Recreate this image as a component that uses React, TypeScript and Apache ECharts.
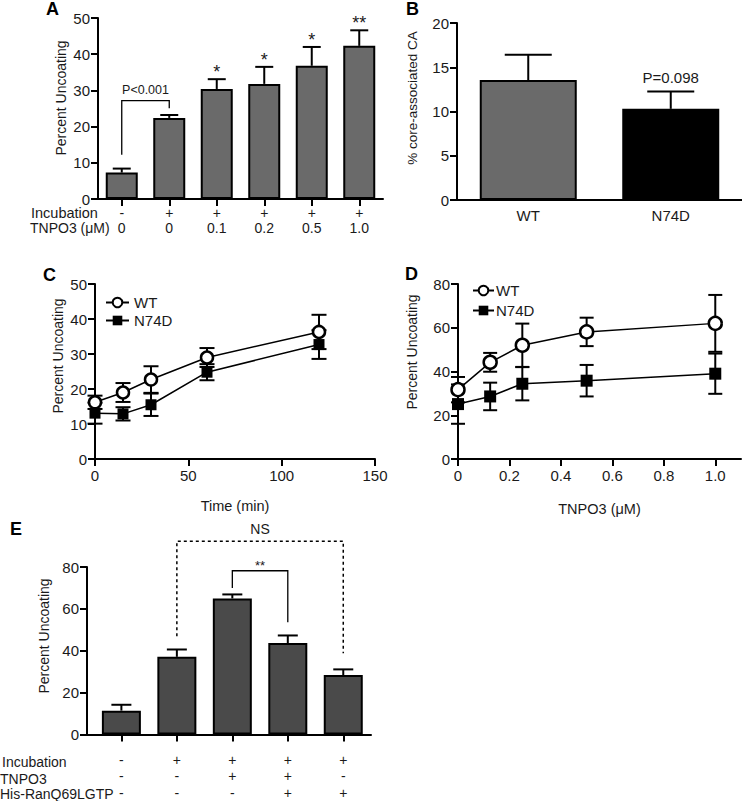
import React, { useEffect, useRef } from "react";
import * as echarts from "echarts";

// ---------- Panel A ----------
const incubationA = ["-", "+", "+", "+", "+", "+"];
const tnpo3A = ["0", "0", "0.1", "0.2", "0.5", "1.0"];
const uncoatingA = [7.3, 22.4, 30.4, 31.8, 36.8, 42.3];
const errA = [1.1, 0.8, 2.7, 4.7, 5.2, 4.3];
const starsA = ["", "", "*", "*", "*", "**"];
const bracketA = [0, 1, 27.2, 12.2, 25.1];
const bracketALabel = "P<0.001";

// ---------- Panel B ----------
const strainB = ["WT", "N74D"];
const coreCAB = [13.55, 10.3];
const errB = [2.85, 1.95];
const pLabelB = ["", "P=0.098"];

// ---------- Panel C ----------
const timeC = [0, 15, 30, 60, 120];
const wtC = [16.2, 19.0, 22.7, 29.0, 36.3];
const wtErrC = [1.9, 2.7, 3.8, 2.7, 4.9];
const n74dC = [13.1, 12.9, 15.5, 24.8, 32.7];
const n74dErrC = [3.0, 1.9, 3.2, 2.3, 4.1];

// ---------- Panel D ----------
const tnpoD = [0, 0.125, 0.25, 0.5, 1.0];
const wtD = [31.7, 44.2, 52.0, 58.1, 62.0];
const wtErrD = [5.8, 4.3, 9.9, 6.5, 13.0];
const n74dD = [25.1, 28.6, 34.4, 35.8, 39.0];
const n74dErrD = [9.0, 6.3, 7.6, 7.2, 9.2];
const ticksD = [0, 0.2, 0.4, 0.6, 0.8, 1.0];

// ---------- Panel E ----------
const incubationE = ["-", "+", "+", "+", "+"];
const tnpoE = ["-", "-", "+", "+", "-"];
const ranE = ["-", "-", "-", "+", "+"];
const uncoatingE = [11.4, 37.1, 65.0, 43.7, 28.4];
const errE = [2.8, 3.5, 1.9, 3.6, 2.7];
const bracketESig = [2, 3, 78.2, 70, 53.6];
const bracketESigLabel = "**";
const bracketENs = [1, 4, 92.3, 46.9, 38.8];
const bracketENsLabel = "NS";

const FONT = '"Liberation Sans", Arial, Helvetica, sans-serif';
const TXT = "#1a1a1a";

function errRender(capW: number, both: boolean) {
  return (params: any, api: any) => {
    const x = api.value(0);
    const y = api.value(1);
    const e = api.value(2);
    const top = api.coord([x, y + e]);
    const bot = api.coord([x, both ? y - e : y]);
    const st = { stroke: "#000", lineWidth: 2 };
    const children: any[] = [
      { type: "line", shape: { x1: top[0], y1: top[1], x2: bot[0], y2: bot[1] }, style: st },
      { type: "line", shape: { x1: top[0] - capW / 2, y1: top[1], x2: top[0] + capW / 2, y2: top[1] }, style: st },
    ];
    if (both) {
      children.push({ type: "line", shape: { x1: bot[0] - capW / 2, y1: bot[1], x2: bot[0] + capW / 2, y2: bot[1] }, style: st });
    }
    return { type: "group", children };
  };
}

function starRender(labels: string[], fontSize: number, lift: number) {
  return (params: any, api: any) => {
    const t = labels[params.dataIndex];
    if (!t) return null;
    const p = api.coord([api.value(0), api.value(1) + api.value(2)]);
    return {
      type: "text",
      x: p[0],
      y: p[1] - lift,
      style: { text: t, fill: TXT, fontSize, fontFamily: FONT, align: "center", verticalAlign: "middle", textAlign: "center", textVerticalAlign: "middle" },
    };
  };
}

function bracketRender(label: string, fontSize: number, lift: number, dashed: boolean) {
  return (params: any, api: any) => {
    const x1 = api.value(0), x2 = api.value(1), top = api.value(2), yl = api.value(3), yr = api.value(4);
    const pl = api.coord([x1, yl]);
    const ptl = api.coord([x1, top]);
    const ptr = api.coord([x2, top]);
    const pr = api.coord([x2, yr]);
    return {
      type: "group",
      children: [
        {
          type: "polyline",
          shape: { points: [pl, ptl, ptr, pr] },
          style: { stroke: "#000", lineWidth: dashed ? 1.5 : 1.3, fill: "none", lineDash: dashed ? [3, 3] : null },
        },
        {
          type: "text",
          x: (ptl[0] + ptr[0]) / 2,
          y: ptl[1] - lift,
          style: { text: label, fill: TXT, fontSize, fontFamily: FONT, align: "center", verticalAlign: "middle", textAlign: "center", textVerticalAlign: "middle" },
        },
      ],
    };
  };
}

const axisLine = { show: true, onZero: false, lineStyle: { color: "#000", width: 2 } };
const axisTick = { show: true, length: 7, lineStyle: { color: "#000", width: 2 } };
const tickLabel = { color: TXT, fontSize: 15, fontFamily: FONT, margin: 8 };

function panelLetter(t: string, x: number, y: number) {
  return {
    type: "text",
    x,
    y,
    style: { text: t, fill: "#000", font: `bold 18px ${FONT}`, textAlign: "left", textVerticalAlign: "middle", align: "left", verticalAlign: "middle" },
  };
}
function plainText(t: string, x: number, y: number, size = 14) {
  return {
    type: "text",
    x,
    y,
    style: { text: t, fill: TXT, fontSize: size, fontFamily: FONT, textAlign: "left", textVerticalAlign: "middle", align: "left", verticalAlign: "middle" },
  };
}
function yName(t: string, x: number, y: number, size = 14) {
  return {
    type: "text",
    x,
    y,
    rotation: Math.PI / 2,
    style: { text: t, fill: TXT, fontSize: size, fontFamily: FONT, textAlign: "center", textVerticalAlign: "middle", align: "center", verticalAlign: "middle" },
  };
}

export default function App() {
  const ref = useRef<HTMLDivElement>(null);
  useEffect(() => {
    if (!ref.current) return;
    const chart = echarts.init(ref.current, null, { renderer: "svg" });
    const labelsA = incubationA.map((s, i) => `${s}\n${tnpo3A[i]}`);
    const labelsE = incubationE.map((s, i) => `${s}\n${tnpoE[i]}\n${ranE[i]}`);

    const option: any = {
      animation: false,
      backgroundColor: "#fff",
      textStyle: { fontFamily: FONT },
      grid: [
        { left: 98, top: 18, width: 285, height: 181 },
        { left: 457, top: 23, width: 285, height: 177 },
        { left: 95, top: 284, width: 280, height: 175 },
        { left: 458, top: 284, width: 283, height: 175 },
        { left: 87, top: 567, width: 284, height: 169 },
      ],
      xAxis: [
        {
          gridIndex: 0,
          type: "category",
          data: labelsA,
          axisLine,
          axisTick: { ...axisTick, alignWithLabel: true },
          axisLabel: { color: TXT, fontSize: 14, fontFamily: FONT, margin: 6, lineHeight: 15, interval: 0 },
        },
        {
          gridIndex: 1,
          type: "category",
          data: strainB,
          axisLine,
          axisTick: { show: false },
          axisLabel: { ...tickLabel, margin: 8 },
        },
        {
          gridIndex: 2,
          type: "value",
          min: 0,
          max: 150,
          interval: 50,
          axisLine,
          axisTick,
          axisLabel: { ...tickLabel, margin: 9 },
          splitLine: { show: false },
          name: "Time (min)",
          nameLocation: "middle",
          nameGap: 39,
          nameTextStyle: { color: TXT, fontSize: 14.5, fontFamily: FONT },
        },
        {
          gridIndex: 3,
          type: "value",
          min: 0,
          max: 1.1,
          axisLine,
          axisTick: { ...axisTick, customValues: ticksD },
          axisLabel: { ...tickLabel, margin: 9, customValues: ticksD, formatter: (v: number) => (v === 0 ? "0" : v.toFixed(1)) },
          splitLine: { show: false },
          name: "TNPO3 (\u03bcM)",
          nameLocation: "middle",
          nameGap: 42,
          nameTextStyle: { color: TXT, fontSize: 14.5, fontFamily: FONT },
        },
        {
          gridIndex: 4,
          type: "value",
          min: -0.62,
          max: 4.5,
          axisLine,
          axisTick: { ...axisTick, customValues: [0, 1, 2, 3, 4] },
          axisLabel: {
            color: TXT,
            fontSize: 14,
            fontFamily: FONT,
            margin: 17,
            lineHeight: 16.5,
            customValues: [0, 1, 2, 3, 4],
            formatter: (v: number) => labelsE[Math.round(v)] ?? "",
          },
          splitLine: { show: false },
        },
      ],
      yAxis: [
        { gridIndex: 0, type: "value", min: 0, max: 50, interval: 10, axisLine, axisTick, axisLabel: tickLabel, splitLine: { show: false } },
        { gridIndex: 1, type: "value", min: 0, max: 20, interval: 5, axisLine, axisTick, axisLabel: tickLabel, splitLine: { show: false } },
        { gridIndex: 2, type: "value", min: 0, max: 50, interval: 10, axisLine, axisTick, axisLabel: tickLabel, splitLine: { show: false } },
        { gridIndex: 3, type: "value", min: 0, max: 80, interval: 20, axisLine, axisTick, axisLabel: tickLabel, splitLine: { show: false } },
        { gridIndex: 4, type: "value", min: 0, max: 80, interval: 20, axisLine, axisTick, axisLabel: tickLabel, splitLine: { show: false } },
      ],
      legend: [
        {
          left: 100,
          top: 290,
          orient: "vertical",
          data: ["WT", "N74D"],
          itemWidth: 23,
          itemHeight: 12,
          itemGap: 3,
          selectedMode: false,
          textStyle: { color: TXT, fontSize: 15, fontFamily: FONT, padding: [0, 0, 0, 0] },
        },
        {
          left: 467,
          top: 278,
          orient: "vertical",
          data: ["WT", "N74D"],
          itemWidth: 21,
          itemHeight: 12,
          itemGap: 5,
          selectedMode: false,
          textStyle: { color: TXT, fontSize: 15, fontFamily: FONT, padding: [0, 0, 0, -3] },
        },
      ],
      series: [
        // A
        {
          type: "bar",
          xAxisIndex: 0,
          yAxisIndex: 0,
          data: uncoatingA,
          barWidth: 32,
          itemStyle: { color: "#6a6a6a", borderColor: "#000", borderWidth: 2 },
          z: 2,
        },
        {
          type: "custom",
          xAxisIndex: 0,
          yAxisIndex: 0,
          data: uncoatingA.map((v, i) => [i, v, errA[i]]),
          renderItem: errRender(18, false),
          z: 3,
        },
        {
          type: "custom",
          xAxisIndex: 0,
          yAxisIndex: 0,
          data: uncoatingA.map((v, i) => [i, v, errA[i]]),
          renderItem: starRender(starsA, 18, 7),
          z: 3,
        },
        {
          type: "custom",
          xAxisIndex: 0,
          yAxisIndex: 0,
          data: [bracketA],
          renderItem: bracketRender(bracketALabel, 12.5, 11, false),
          z: 3,
        },
        // B
        {
          type: "bar",
          xAxisIndex: 1,
          yAxisIndex: 1,
          data: coreCAB.map((v, i) => ({ value: v, itemStyle: { color: i === 0 ? "#6a6a6a" : "#000" } })),
          barWidth: 97,
          itemStyle: { borderColor: "#000", borderWidth: 2 },
          z: 2,
        },
        {
          type: "custom",
          xAxisIndex: 1,
          yAxisIndex: 1,
          data: coreCAB.map((v, i) => [i, v, errB[i]]),
          renderItem: errRender(47, false),
          z: 3,
        },
        {
          type: "custom",
          xAxisIndex: 1,
          yAxisIndex: 1,
          data: coreCAB.map((v, i) => [i, v, errB[i]]),
          renderItem: starRender(pLabelB, 15, 14),
          z: 3,
        },
        // C
        {
          type: "custom",
          xAxisIndex: 2,
          yAxisIndex: 2,
          data: timeC.map((t, i) => [t, wtC[i], wtErrC[i]]),
          renderItem: errRender(15, true),
          z: 1,
        },
        {
          type: "custom",
          xAxisIndex: 2,
          yAxisIndex: 2,
          data: timeC.map((t, i) => [t, n74dC[i], n74dErrC[i]]),
          renderItem: errRender(15, true),
          z: 1,
        },
        {
          name: "WT",
          type: "line",
          xAxisIndex: 2,
          yAxisIndex: 2,
          data: timeC.map((t, i) => [t, wtC[i]]),
          symbol: "circle",
          symbolSize: 12,
          itemStyle: { color: "#fff", borderColor: "#000", borderWidth: 2.5 },
          lineStyle: { color: "#000", width: 1.5 },
          z: 4,
        },
        {
          name: "N74D",
          type: "line",
          xAxisIndex: 2,
          yAxisIndex: 2,
          data: timeC.map((t, i) => [t, n74dC[i]]),
          symbol: "rect",
          symbolSize: 11,
          itemStyle: { color: "#000" },
          lineStyle: { color: "#000", width: 1.5 },
          z: 4,
        },
        // D
        {
          type: "custom",
          xAxisIndex: 3,
          yAxisIndex: 3,
          data: tnpoD.map((t, i) => [t, wtD[i], wtErrD[i]]),
          renderItem: errRender(14, true),
          z: 1,
        },
        {
          type: "custom",
          xAxisIndex: 3,
          yAxisIndex: 3,
          data: tnpoD.map((t, i) => [t, n74dD[i], n74dErrD[i]]),
          renderItem: errRender(14, true),
          z: 1,
        },
        {
          name: "WT",
          type: "line",
          xAxisIndex: 3,
          yAxisIndex: 3,
          data: tnpoD.map((t, i) => [t, wtD[i]]),
          symbol: "circle",
          symbolSize: 13,
          itemStyle: { color: "#fff", borderColor: "#000", borderWidth: 2.5 },
          lineStyle: { color: "#000", width: 1.5 },
          z: 4,
        },
        {
          name: "N74D",
          type: "line",
          xAxisIndex: 3,
          yAxisIndex: 3,
          data: tnpoD.map((t, i) => [t, n74dD[i]]),
          symbol: "rect",
          symbolSize: 12,
          itemStyle: { color: "#000" },
          lineStyle: { color: "#000", width: 1.5 },
          z: 4,
        },
        // E
        {
          type: "bar",
          xAxisIndex: 4,
          yAxisIndex: 4,
          data: uncoatingE.map((v, i) => [i, v]),
          barWidth: 39,
          itemStyle: { color: "#4a4a4a", borderColor: "#000", borderWidth: 2 },
          z: 2,
        },
        {
          type: "custom",
          xAxisIndex: 4,
          yAxisIndex: 4,
          data: uncoatingE.map((v, i) => [i, v, errE[i]]),
          renderItem: errRender(20, false),
          z: 3,
        },
        {
          type: "custom",
          xAxisIndex: 4,
          yAxisIndex: 4,
          data: [bracketESig],
          renderItem: bracketRender(bracketESigLabel, 13, 5, false),
          z: 3,
        },
        {
          type: "custom",
          xAxisIndex: 4,
          yAxisIndex: 4,
          data: [bracketENs],
          renderItem: bracketRender(bracketENsLabel, 14, 12, true),
          z: 3,
        },
      ],
      graphic: [
        panelLetter("A", 46, 9),
        panelLetter("B", 406, 9),
        panelLetter("C", 43, 275),
        panelLetter("D", 405, 274),
        panelLetter("E", 10, 529),
        yName("Percent Uncoating", 61, 98),
        yName("% core-associated CA", 412, 98, 13.5),
        yName("Percent Uncoating", 58, 356),
        yName("Percent Uncoating", 412, 352),
        yName("Percent Uncoating", 44, 636),
        plainText("Incubation", 31, 213, 14.5),
        plainText("TNPO3 (\u03bcM)", 30, 228, 14),
        plainText("Incubation", 2, 762, 14),
        plainText("TNPO3", 0, 778.5, 14),
        plainText("His-RanQ69LGTP", 0, 794, 14),
      ],
    };
    chart.setOption(option);
    return () => chart.dispose();
  }, []);
  return (
    <div
      ref={ref}
      style={{ position: "fixed", left: 0, top: 0, width: 742, height: 801, background: "#fff" }}
    />
  );
}
